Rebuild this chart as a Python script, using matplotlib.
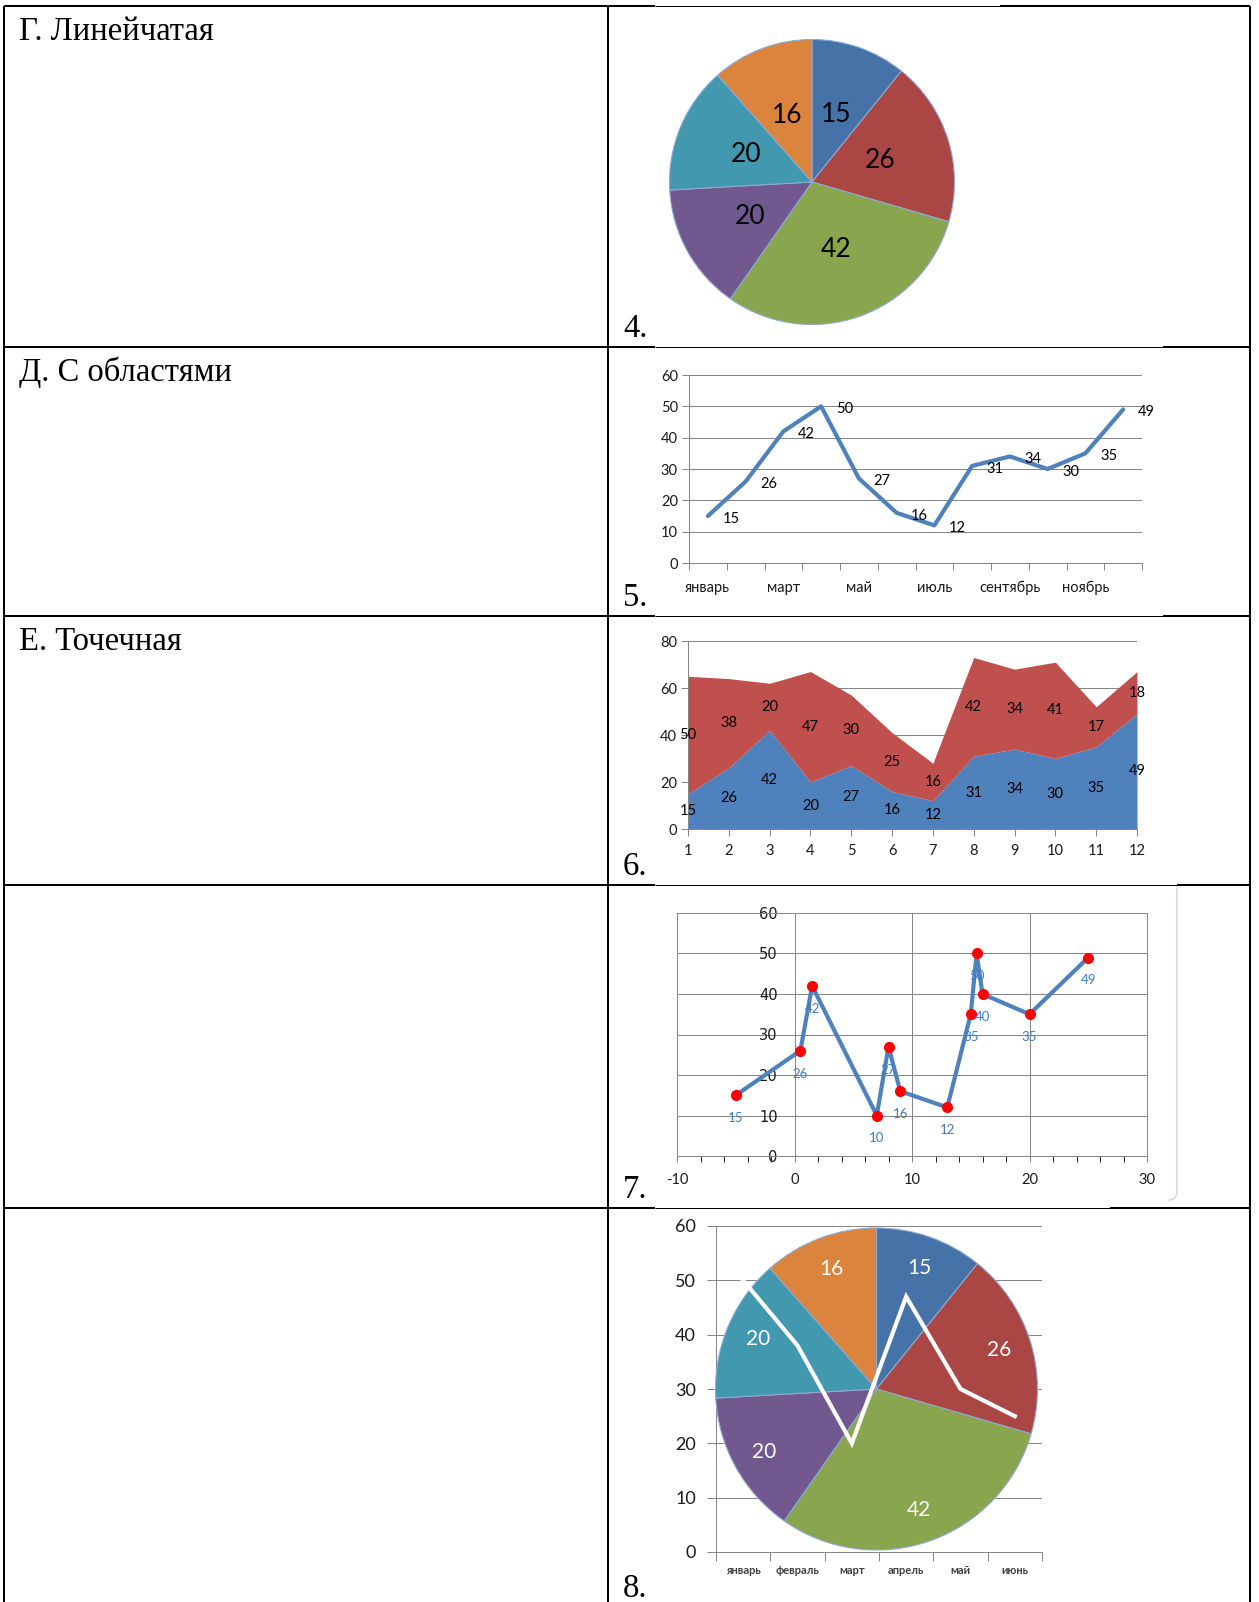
import numpy as np
import matplotlib
matplotlib.use("Agg")
import matplotlib.pyplot as plt

plt.rcParams["axes.unicode_minus"] = False

W, H = 1259, 1602

# table text
row_labels = ["Г. Линейчатая", "Д. С областями", "Е. Точечная", "", ""]
row_numbers = ["4.", "5.", "6.", "7.", "8."]

# 4. pie
pie_values = [15, 26, 42, 20, 20, 16]
pie_colors = ["#4572A7", "#AA4643", "#89A54E", "#71588F", "#4198AF", "#DB843D"]

# 5. line by month
months = ["январь", "февраль", "март", "апрель", "май", "июнь",
          "июль", "август", "сентябрь", "октябрь", "ноябрь", "декабрь"]
month_values = [15, 26, 42, 50, 27, 16, 12, 31, 34, 30, 35, 49]

# 6. stacked area
area_x = [1, 2, 3, 4, 5, 6, 7, 8, 9, 10, 11, 12]
area_lower = [15, 26, 42, 20, 27, 16, 12, 31, 34, 30, 35, 49]
area_upper = [50, 38, 20, 47, 30, 25, 16, 42, 34, 41, 17, 18]

# 7. scatter with lines
scatter_x = [-5, 0.5, 1.5, 7, 8, 9, 13, 15, 15.5, 16, 20, 25]
scatter_y = [15, 26, 42, 10, 27, 16, 12, 35, 50, 40, 35, 49]

# 8. pie over a line chart
combo_months = months[:6]
combo_values = [50, 38, 20, 47, 30, 25]

GRID = "#868686"
BLUE = "#4F81BD"
SANS = ["Lato", "DejaVu Sans"]
SERIF = "Liberation Serif"
PX = 0.72  # points per pixel at dpi 100

fig = plt.figure(figsize=(W / 100, H / 100), dpi=100)
fig.patch.set_facecolor("white")


def px_axes(x0, y0, x1, y1):
    return fig.add_axes([x0 / W, 1 - y1 / H, (x1 - x0) / W, (y1 - y0) / H])


# ---- table ----
bg = px_axes(0, 0, W, H)
bg.set_xlim(0, W)
bg.set_ylim(H, 0)
bg.axis("off")

x_left, x_mid, x_right = 4, 608, 1250
row_tops = [6, 347, 616, 885, 1208]
thin_ends = [1000, 1163, 1163, 1177, 1110]
thick = 2 * PX
thin = 1 * PX

for x in (x_left, x_mid, x_right):
    bg.plot([x, x], [row_tops[0], H], color="black", lw=thick, solid_capstyle="butt")
for y, end in zip(row_tops, thin_ends):
    bg.plot([x_left, 655], [y, y], color="black", lw=thick, solid_capstyle="butt")
    bg.plot([655, end], [y, y], color="black", lw=thin, solid_capstyle="butt")
    bg.plot([end, x_right], [y, y], color="black", lw=thick, solid_capstyle="butt")

row_bottoms = row_tops[1:] + [1607]
for label, num, top, bottom in zip(row_labels, row_numbers, row_tops, row_bottoms):
    if label:
        bg.text(19, top + 34, label, family=SERIF, fontsize=23.5, va="baseline", ha="left")
    bg.text(623, bottom - 10, num, family=SERIF, fontsize=23.5, va="baseline", ha="left")

# light chart-area border of chart 7
arc = np.linspace(0, np.pi / 2, 12)
bx = list(np.full(2, 1177.0)) + list(1169 + 8 * np.cos(arc))
by = [887, 1192] + list(1192 + 8 * np.sin(arc))
bg.plot(bx, by, color="#D3DAE3", lw=1.2)


def pie_labels(ax, wedges, values, dist, color, size):
    for w, v in zip(wedges, values):
        ang = np.deg2rad((w.theta1 + w.theta2) / 2)
        ax.text(dist * np.cos(ang), dist * np.sin(ang), str(v), ha="center", va="center",
                color=color, fontsize=size, family=SANS)


# ---- 4. pie ----
cx, cy, r = 812, 182, 142.5
ax4 = px_axes(cx - r, cy - r, cx + r, cy + r)
wedges, _ = ax4.pie(pie_values, colors=pie_colors, startangle=90, counterclock=False,
                    wedgeprops=dict(edgecolor="#8EA9D4", linewidth=0.8))
ax4.set_xlim(-1, 1)
ax4.set_ylim(-1, 1)
ax4.set_aspect("equal")
ax4.axis("off")
pie_labels(ax4, wedges, pie_values, 0.5, "black", 19)


def style_axes(ax, labelsize=10.5):
    for side in ("top", "right"):
        ax.spines[side].set_visible(False)
    for side in ("left", "bottom"):
        ax.spines[side].set_color(GRID)
        ax.spines[side].set_linewidth(thin)
    ax.set_facecolor("none")
    ax.set_axisbelow(True)
    ax.tick_params(colors=GRID, labelcolor="#1a1a1a", labelsize=labelsize, width=thin)
    for t in ax.get_xticklabels() + ax.get_yticklabels():
        t.set_family(SANS)


# ---- 5. line ----
ax5 = px_axes(689, 375, 1142, 563)
xs = np.arange(len(months))
ax5.plot(xs, month_values, color=BLUE, lw=3, solid_joinstyle="round", solid_capstyle="round")
for x, v in zip(xs, month_values):
    ax5.annotate(str(v), (x, v), xytext=(10.5, -2), textcoords="offset points",
                 ha="left", va="center", fontsize=10.5, family=SANS)
ax5.set_xlim(-0.5, len(months) - 0.5)
ax5.set_ylim(0, 60)
ax5.set_yticks(range(0, 61, 10))
ax5.set_xticks(xs, [m if i % 2 == 0 else "" for i, m in enumerate(months)])
ax5.set_xticks(np.arange(-0.5, len(months), 1), minor=True)
ax5.grid(axis="y", color=GRID, lw=thin)
style_axes(ax5)
ax5.tick_params(axis="y", length=5, pad=3)
ax5.tick_params(axis="x", which="major", length=0, pad=13)
ax5.tick_params(axis="x", which="minor", length=5, color=GRID, width=thin)

# ---- 6. stacked area ----
ax6 = px_axes(688, 641, 1137, 829)
lower = np.array(area_lower)
upper = lower + np.array(area_upper)
ax6.fill_between(area_x, 0, lower, color=BLUE, lw=0, zorder=2)
ax6.fill_between(area_x, lower, upper, color="#C0504D", lw=0, zorder=2)
for x, lo, up in zip(area_x, area_lower, area_upper):
    ax6.text(x, lo / 2, str(lo), ha="center", va="center", fontsize=10.5, family=SANS, zorder=3)
    ax6.text(x, lo + up / 2, str(up), ha="center", va="center", fontsize=10.5, family=SANS, zorder=3)
ax6.set_xlim(1, 12)
ax6.set_ylim(0, 80)
ax6.set_xticks(area_x)
ax6.set_yticks(range(0, 81, 20))
ax6.grid(axis="y", color=GRID, lw=thin, zorder=0)
style_axes(ax6)
ax6.tick_params(axis="y", length=5, pad=3)
ax6.tick_params(axis="x", length=5, pad=6)

# ---- 7. scatter ----
ax7 = px_axes(677, 913, 1147, 1156)
ax7.plot(scatter_x, scatter_y, color=BLUE, lw=3, zorder=3, solid_joinstyle="round")
ax7.plot(scatter_x, scatter_y, "o", color="#FF0000", ms=7, zorder=4)
for x, y in zip(scatter_x, scatter_y):
    ax7.annotate(str(y), (x, y), xytext=(0, -16.5), textcoords="offset points",
                 ha="center", va="center", fontsize=9.5, color="#3E7CC4", family=SANS, zorder=5)
ax7.set_xlim(-10, 30)
ax7.set_ylim(0, 60)
ax7.set_xticks(range(-10, 31, 10))
ax7.set_xticks(range(-10, 31, 2), minor=True)
ax7.set_yticks(range(0, 61, 10))
ax7.grid(which="major", color=GRID, lw=thin)
style_axes(ax7)
ax7.spines["left"].set_position(("data", 0))
ax7.add_patch(plt.Rectangle((0, 0), 1, 1, transform=ax7.transAxes, fill=False,
                            ec=GRID, lw=thin, clip_on=False))
ax7.tick_params(axis="y", length=0, pad=12)
ax7.tick_params(axis="x", which="both", length=4, pad=8)

# ---- 8. pie on a line chart ----
box8 = (716, 1226, 1042, 1552)
ax8 = px_axes(*box8)
cxs = np.arange(len(combo_months))
ax8.set_xlim(-0.5, len(combo_months) - 0.5)
ax8.set_ylim(0, 60)
ax8.set_yticks(range(0, 61, 10))
ax8.set_xticks(cxs, combo_months)
ax8.set_xticks(np.arange(-0.5, len(combo_months), 1), minor=True)
ax8.grid(axis="y", color=GRID, lw=thin)
style_axes(ax8, labelsize=13)
ax8.tick_params(axis="y", length=6.5, pad=8)
ax8.tick_params(axis="x", which="major", length=0, pad=9, labelsize=8)
ax8.tick_params(axis="x", which="minor", length=6.5, color=GRID, width=thin)
for t in ax8.get_xticklabels():
    t.set_fontweight("bold")
    t.set_color("#404040")

cx, cy, r = 876.5, 1389, 161
pax = px_axes(cx - r, cy - r, cx + r, cy + r)
wedges8, _ = pax.pie(pie_values, colors=pie_colors, startangle=90, counterclock=False,
                     wedgeprops=dict(edgecolor="#8EA9D4", linewidth=0.8))
pax.set_xlim(-1, 1)
pax.set_ylim(-1, 1)
pax.set_aspect("equal")
pax.axis("off")
pie_labels(pax, wedges8, pie_values, 0.8, "white", 15)

lax = px_axes(*box8)
lax.plot(cxs, combo_values, color="white", lw=3, solid_joinstyle="miter")
lax.set_xlim(-0.5, len(combo_months) - 0.5)
lax.set_ylim(0, 60)
lax.axis("off")

fig.savefig("out.png", dpi=100, facecolor="white")
